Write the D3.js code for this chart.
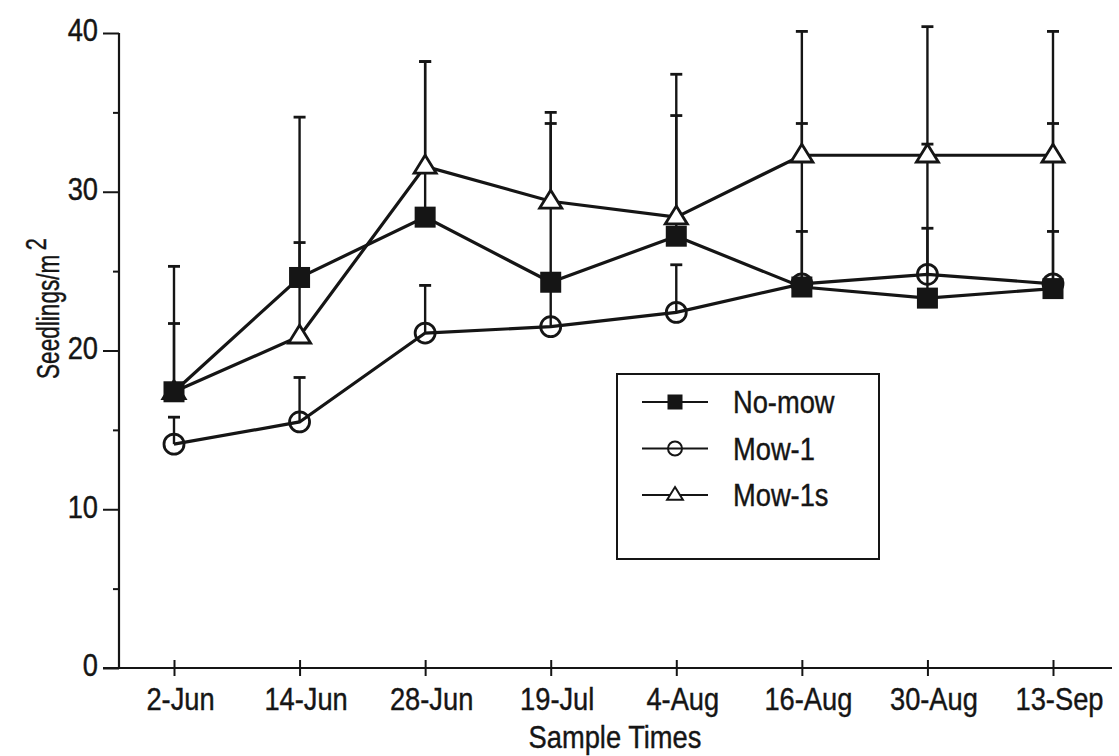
<!DOCTYPE html>
<html>
<head>
  <meta charset="utf-8">
  <script src="https://cdn.jsdelivr.net/npm/d3@7"></script>
  <style>
    body { margin: 0; background: #fff; }
    text { font-family: "Liberation Sans", Arial, sans-serif; fill: #151515; stroke: #151515; stroke-width: 0.4px; }
  </style>
</head>
<body>
<script>
  // sample dates and series means (seedlings per m2)
  var sampleTimes = ["2-Jun", "14-Jun", "28-Jun", "19-Jul", "4-Aug", "16-Aug", "30-Aug", "13-Sep"];
  var noMow  = [17.4, 24.6, 28.4, 24.3, 27.2, 24.0, 23.3, 23.9];
  var mow1   = [14.1, 15.5, 21.1, 21.5, 22.4, 24.2, 24.8, 24.2];
  var mow1s  = [17.4, 20.9, 31.6, 29.4, 28.4, 32.3, 32.3, 32.3];
  // top of the (upper only) error bars
  var noMowHi = [21.7, 26.8, 38.2, 34.3, 34.8, 34.3, 33.0, 34.3];
  var mow1Hi  = [15.8, 18.3, 24.1, 24.3, 25.4, 27.5, 27.7, 27.5];
  var mow1sHi = [25.3, 34.7, 38.2, 35.0, 37.4, 40.1, 40.4, 40.1];
  var yTicks = [0, 10, 20, 30, 40];
  var yMinor = [5, 15, 25, 35];

  var series = [
    { name: "No-mow",  vals: noMow, hi: noMowHi, shape: "square" },
    { name: "Mow-1",   vals: mow1,  hi: mow1Hi,  shape: "circle" },
    { name: "Mow-1s",  vals: mow1s, hi: mow1sHi, shape: "triangle" }
  ];

  var width = 1119, height = 756;
  var ink = "#151515";
  var squeeze = "scale(0.88,1)";   // the original lettering is a bit narrow

  var svg = d3.select("body").append("svg")
      .attr("width", width)
      .attr("height", height);

  var x = d3.scalePoint().domain(sampleTimes).range([174, 1053]);
  var y = d3.scaleLinear().domain([0, 40]).range([668, 33]);

  // axes
  var yAxis = svg.append("g")
      .attr("transform", "translate(119,0)")
      .call(d3.axisLeft(y).tickValues(yTicks).tickSize(16));
  yAxis.select(".domain").attr("d", "M0," + y(40) + "V" + y(0)).attr("stroke", ink).attr("stroke-width", 2.2);
  yAxis.selectAll(".tick line").attr("stroke", ink).attr("stroke-width", 2);
  yAxis.selectAll(".tick text")
      .attr("x", 0)
      .attr("dy", "0.25em")
      .attr("transform", "translate(-21,0) " + squeeze)
      .style("font-size", "31px");

  var yMinorAxis = svg.append("g")
      .attr("transform", "translate(119,0)")
      .call(d3.axisLeft(y).tickValues(yMinor).tickSize(6).tickFormat(""));
  yMinorAxis.select(".domain").remove();
  yMinorAxis.selectAll(".tick line").attr("stroke", ink).attr("stroke-width", 2);

  var xAxis = svg.append("g")
      .attr("transform", "translate(0,668)")
      .call(d3.axisBottom(x).tickSize(8).tickPadding(12));
  xAxis.select(".domain").attr("d", "M103,0H1112").attr("stroke", ink).attr("stroke-width", 2.2);
  xAxis.selectAll(".tick line").attr("y1", -8).attr("y2", 8).attr("stroke", ink).attr("stroke-width", 2);
  xAxis.selectAll(".tick text")
      .attr("transform", "translate(6,0) " + squeeze)
      .style("font-size", "31px");

  // axis titles
  svg.append("text")
      .attr("transform", "translate(615,748) " + squeeze)
      .attr("text-anchor", "middle")
      .style("font-size", "31px")
      .text("Sample Times");

  var yTitle = svg.append("text")
      .attr("transform", "translate(59,379) rotate(-90) scale(0.73,1)")
      .attr("text-anchor", "start")
      .style("font-size", "31px");
  yTitle.append("tspan").text("Seedlings/m");
  yTitle.append("tspan").attr("dy", -13).attr("dx", 6).style("font-size", "30px").text("2");

  // error bars (drawn under the lines and markers)
  var cap = 6;
  series.forEach(function (s) {
    var g = svg.append("g");
    sampleTimes.forEach(function (t, i) {
      g.append("line")
          .attr("x1", x(t)).attr("x2", x(t))
          .attr("y1", y(s.vals[i])).attr("y2", y(s.hi[i]))
          .attr("stroke", ink).attr("stroke-width", 2.4);
      g.append("line")
          .attr("x1", x(t) - cap).attr("x2", x(t) + cap)
          .attr("y1", y(s.hi[i])).attr("y2", y(s.hi[i]))
          .attr("stroke", ink).attr("stroke-width", 2.8);
    });
  });

  var line = d3.line()
      .x(function (d, i) { return x(sampleTimes[i]); })
      .y(function (d) { return y(d); });

  series.forEach(function (s) {
    svg.append("path")
        .datum(s.vals)
        .attr("d", line)
        .attr("fill", "none")
        .attr("stroke", ink)
        .attr("stroke-width", 3.2);
  });

  function drawMarker(g, shape, cx, cy, size, sw) {
    if (shape === "square") {
      g.append("rect")
          .attr("x", cx - size / 2).attr("y", cy - size / 2)
          .attr("width", size).attr("height", size)
          .attr("fill", ink);
    } else if (shape === "circle") {
      g.append("circle")
          .attr("cx", cx).attr("cy", cy).attr("r", size / 2 - 0.5)
          .attr("fill", "none").attr("stroke", ink).attr("stroke-width", sw);
    } else {
      var h = size * 0.85, w = size * 1.05;
      g.append("path")
          .attr("d", "M" + cx + "," + (cy - h * 0.62) +
                     "L" + (cx + w / 2) + "," + (cy + h * 0.38) +
                     "L" + (cx - w / 2) + "," + (cy + h * 0.38) + "Z")
          .attr("fill", "#fff").attr("stroke", ink).attr("stroke-width", sw);
    }
  }

  // draw circles and triangles first, squares on top
  [series[1], series[2], series[0]].forEach(function (s) {
    var g = svg.append("g");
    s.vals.forEach(function (v, i) {
      drawMarker(g, s.shape, x(sampleTimes[i]), y(v), 21, 2.8);
    });
  });

  // legend
  var legend = svg.append("g");
  legend.append("rect")
      .attr("x", 617).attr("y", 374)
      .attr("width", 262).attr("height", 185)
      .attr("fill", "#fff").attr("stroke", ink).attr("stroke-width", 2);
  series.forEach(function (s, i) {
    var ly = 402 + i * 46.5;
    legend.append("line")
        .attr("x1", 642).attr("x2", 708)
        .attr("y1", ly).attr("y2", ly)
        .attr("stroke", ink).attr("stroke-width", 2);
    drawMarker(legend, s.shape, 675, ly, 15, 2);
    legend.append("text")
        .attr("transform", "translate(733," + ly + ") " + squeeze)
        .attr("dy", "0.36em")
        .style("font-size", "31px")
        .text(s.name);
  });
</script>
</body>
</html>
